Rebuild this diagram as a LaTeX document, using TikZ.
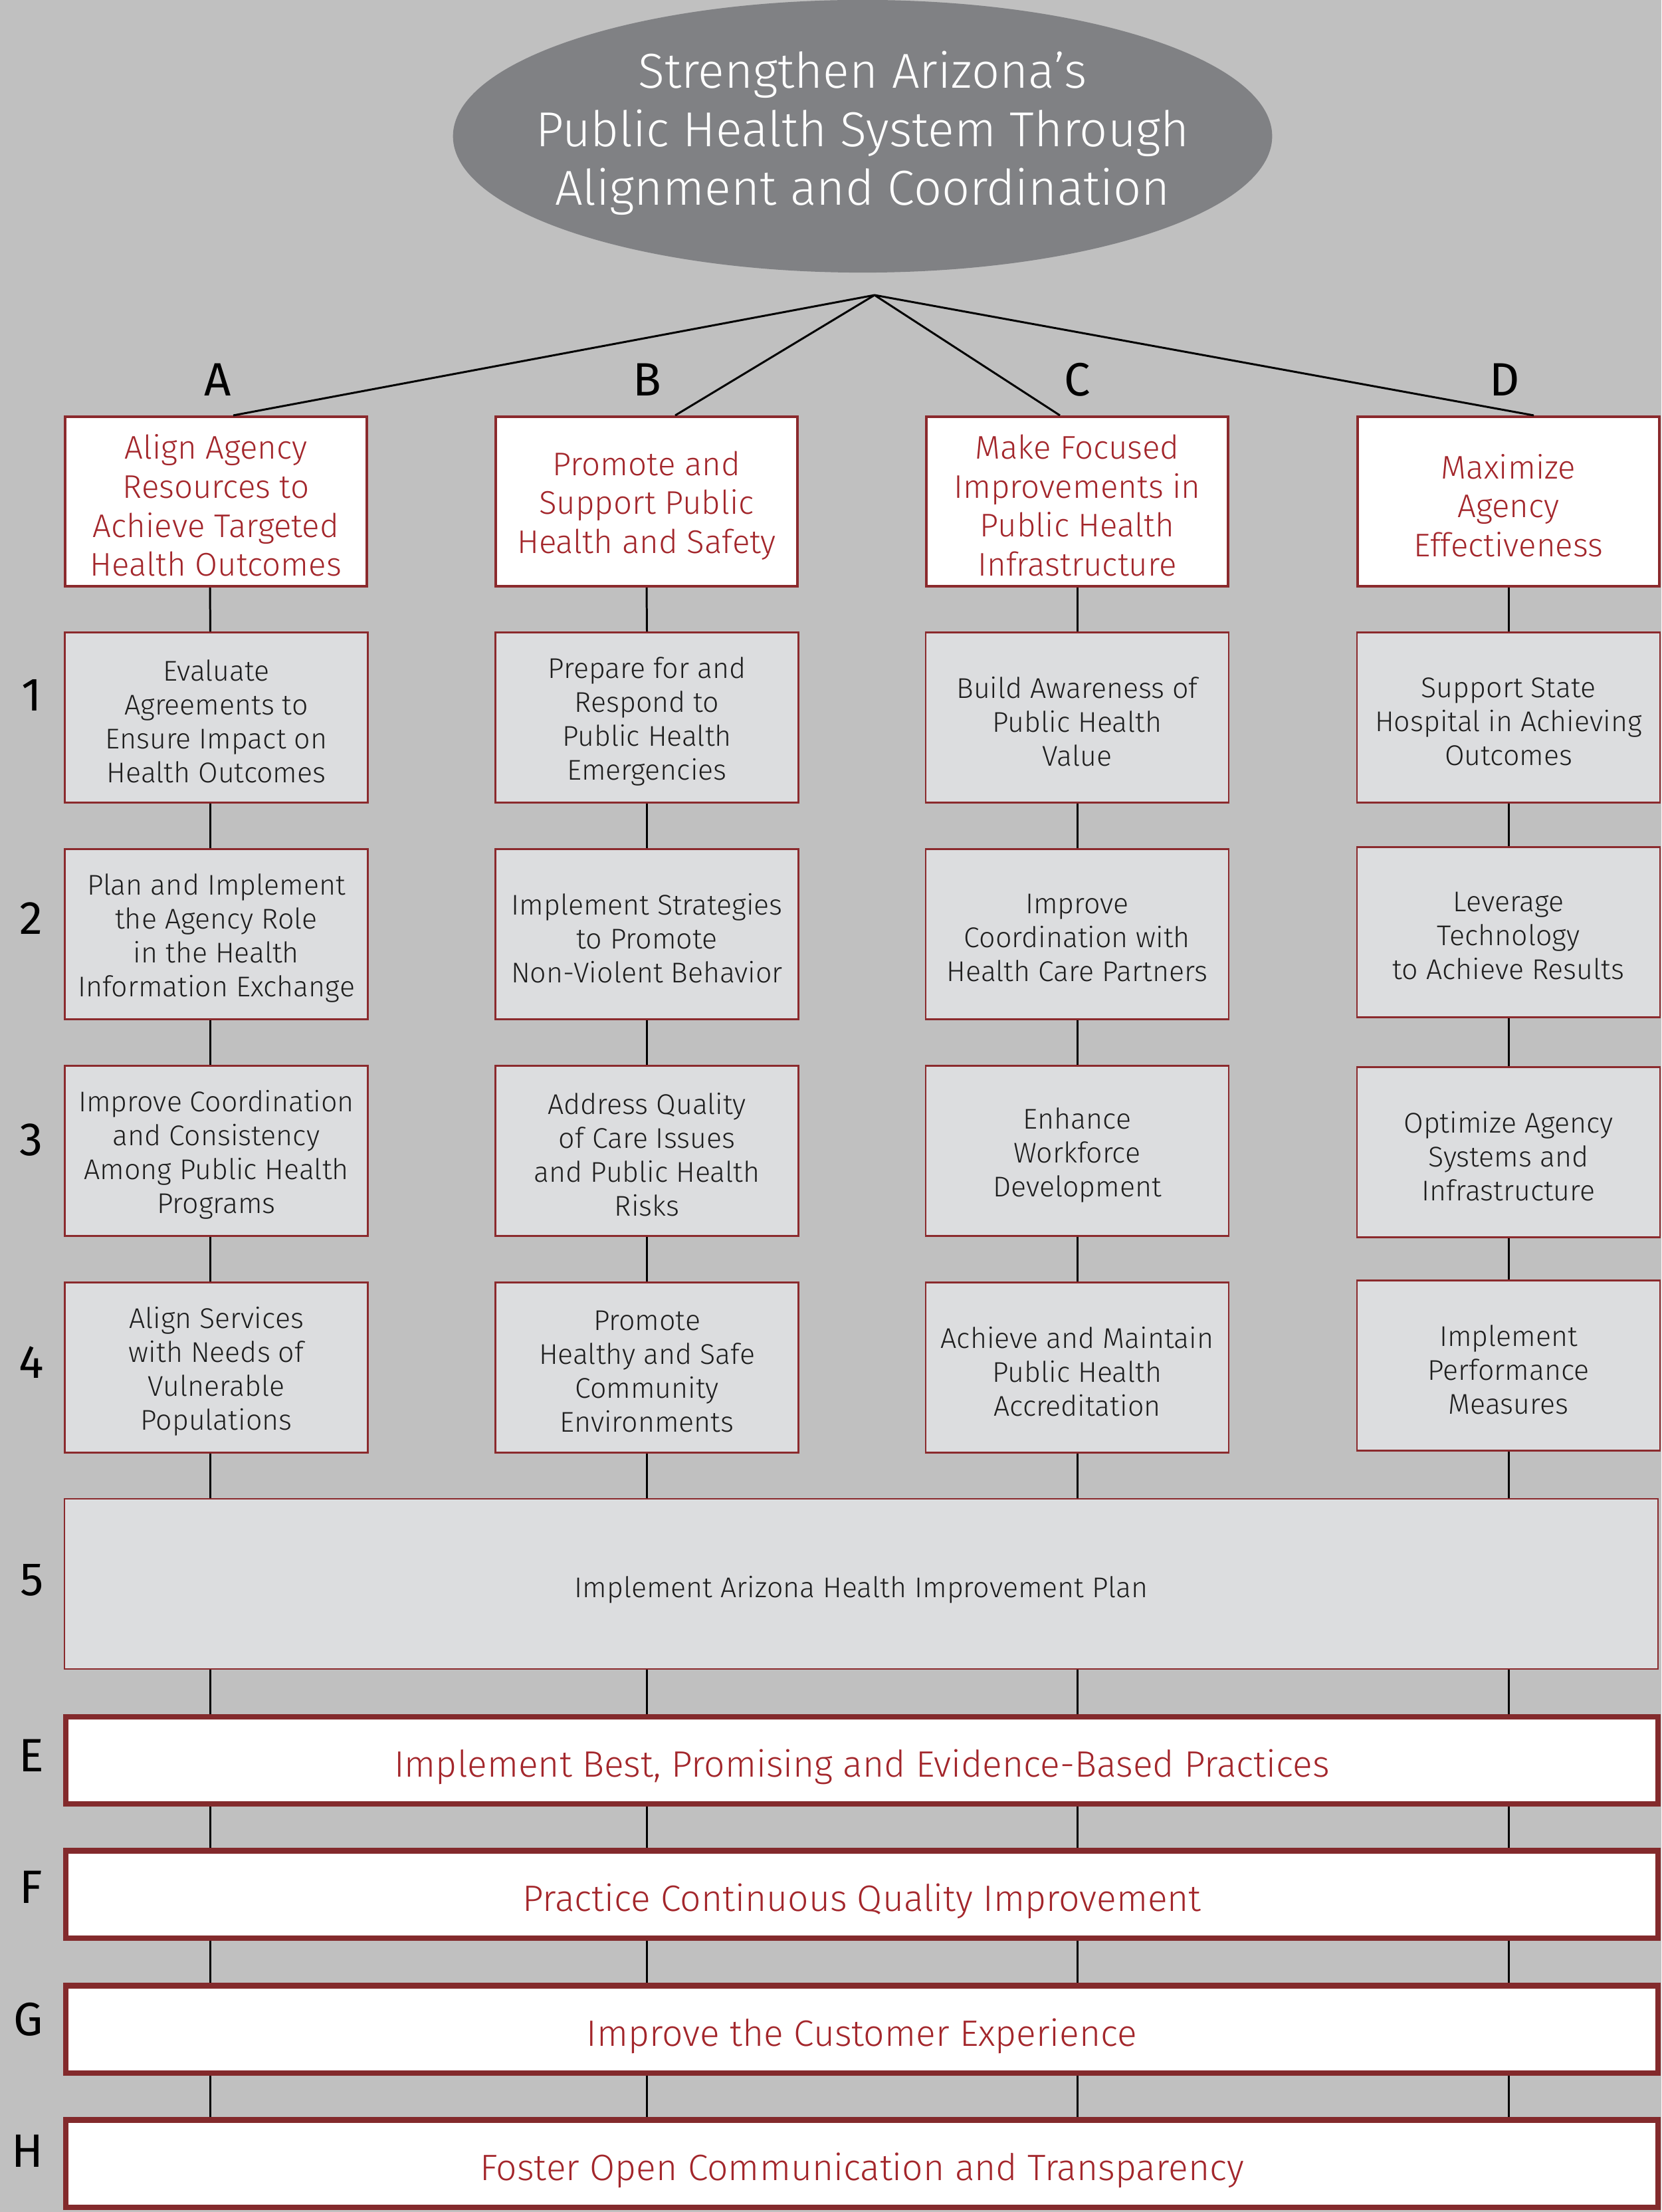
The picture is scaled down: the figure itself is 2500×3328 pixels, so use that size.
\documentclass[tikz,border=0pt]{standalone}
\usepackage{fontspec}
\setmainfont{Fira Sans Light}
\newfontfamily\firareg{Fira Sans}
\usetikzlibrary{shapes.geometric,calc}
\definecolor{bg}{HTML}{C0C0C0}
\definecolor{ellfill}{HTML}{808184}
\definecolor{boxfill}{HTML}{DCDDDF}
\definecolor{redline}{HTML}{8B2A2D}
\definecolor{redtext}{HTML}{A3262B}
\definecolor{darkred}{HTML}{832A2C}
\definecolor{txt}{HTML}{1E1E1E}
\newcommand{\lowered}[2]{\raisebox{-#1}[\height][\depth]{#2}}
\newcommand{\mltext}[1]{\lowered{0.06cm}{\parbox{4.45cm}{\centering #1}}}
\begin{document}
\begin{tikzpicture}[x=0.01cm,y=-0.01cm,
  topbox/.style={draw=redline, line width=1.1pt, fill=white, text=redtext,
    minimum width=4.54cm, minimum height=2.55cm, inner sep=0pt, align=center,
    font=\fontsize{14.0}{16.7}\selectfont},
  graybox/.style={draw=redline, line width=0.7pt, fill=boxfill, text=txt,
    minimum width=4.56cm, minimum height=2.56cm, inner sep=0pt, align=center,
    font=\fontsize{12.2}{14.5}\selectfont},
  widebox/.style={draw=redline, line width=0.7pt, fill=boxfill, text=txt,
    minimum width=23.97cm, minimum height=2.555cm, inner sep=0pt, align=center,
    font=\fontsize{12.2}{14.5}\selectfont},
  barbox/.style={draw=darkred, line width=2.3pt, fill=white, text=redtext,
    minimum width=23.94cm, minimum height=1.31cm, inner sep=0pt, align=center,
    font=\fontsize{15.7}{18}\selectfont},
  lbl/.style={text=black, inner sep=0pt, font=\firareg\fontsize{20}{24}\selectfont},
  conn/.style={draw=black, line width=0.85pt}
]
\useasboundingbox (0,0) rectangle (2500,3328);
\fill[bg] (0,0) rectangle (2500,3328);

% title ellipse
\node[ellipse, fill=ellfill, minimum width=12.32cm, minimum height=4.1cm, inner sep=0pt] (goal) at (1298,205) {};
\node[text=white, align=center, inner sep=0pt, font=\fontsize{21}{25}\selectfont] (title) at (1298,200)
  {Strengthen Arizona’s\\Public Health System Through\\Alignment and Coordination};
\coordinate (apex) at (1316,444);

% column letters
\node[lbl] (la) at (328,571) {A};
\node[lbl] (lb) at (974,571) {B};
\node[lbl] (lc) at (1621,571) {C};
\node[lbl] (ld) at (2264,571) {D};

% row labels
\node[lbl] (r1) at (48,1046) {1};
\node[lbl] (r2) at (47,1382) {2};
\node[lbl] (r3) at (47,1715) {3};
\node[lbl] (r4) at (47,2050) {4};
\node[lbl] (r5) at (48,2377) {5};
\node[lbl] (rE) at (47,2641) {E};
\node[lbl] (rF) at (47,2839) {F};
\node[lbl] (rG) at (43,3038) {G};
\node[lbl] (rH) at (41,3236) {H};

% top boxes
\node[topbox] (tA) at (325,754.5) {\mltext{Align Agency\\Resources to\\Achieve Targeted\\Health Outcomes}};
\node[topbox] (tB) at (973,754.5) {\mltext{Promote and\\Support Public\\Health and Safety}};
\node[topbox] (tC) at (1621,754.5) {\mltext{Make Focused\\Improvements in\\Public Health\\Infrastructure}};
\node[topbox] (tD) at (2270,754.5) {\mltext{Maximize\\Agency\\Effectiveness}};

% row 1
\node[graybox] (a1) at (325.5,1079.5) {\mltext{Evaluate\\Agreements to\\Ensure Impact on\\Health Outcomes}};
\node[graybox] (b1) at (973.5,1079.5) {\mltext{Prepare for and\\Respond to\\Public Health\\Emergencies}};
\node[graybox] (c1) at (1621,1079.5) {\mltext{Build Awareness of\\Public Health\\Value}};
\node[graybox] (d1) at (2270,1079.5) {\mltext{Support State\\Hospital in Achieving\\Outcomes}};
% row 2
\node[graybox] (a2) at (325.5,1405.5) {\mltext{Plan and Implement\\the Agency Role\\in the Health\\Information Exchange}};
\node[graybox] (b2) at (973.5,1405.5) {\mltext{Implement Strategies\\to Promote\\Non-Violent Behavior}};
\node[graybox] (c2) at (1621,1405.5) {\mltext{Improve\\Coordination with\\Health Care Partners}};
\node[graybox] (d2) at (2270,1402.5) {\mltext{Leverage\\Technology\\to Achieve Results}};
% row 3
\node[graybox] (a3) at (325.5,1731.5) {\mltext{Improve Coordination\\and Consistency\\Among Public Health\\Programs}};
\node[graybox] (b3) at (973.5,1731.5) {\mltext{Address Quality\\of Care Issues\\and Public Health\\Risks}};
\node[graybox] (c3) at (1621,1731.5) {\mltext{Enhance\\Workforce\\Development}};
\node[graybox] (d3) at (2270,1733.5) {\mltext{Optimize Agency\\Systems and\\Infrastructure}};
% row 4
\node[graybox] (a4) at (325.5,2057.5) {\mltext{Align Services\\with Needs of\\Vulnerable\\Populations}};
\node[graybox] (b4) at (973.5,2057.5) {\mltext{Promote\\Healthy and Safe\\Community\\Environments}};
\node[graybox] (c4) at (1621,2057.5) {\mltext{Achieve and Maintain\\Public Health\\Accreditation}};
\node[graybox] (d4) at (2270,2054.5) {\mltext{Implement\\Performance\\Measures}};

% row 5 and bars
\node[widebox] (p5) at (1296,2383) {\lowered{0.09cm}{Implement Arizona Health Improvement Plan}};
\node[barbox] (bE) at (1297,2648.5) {\lowered{0.10cm}{Implement Best, Promising and Evidence-Based Practices}};
\node[barbox] (bF) at (1297,2850) {\lowered{0.10cm}{Practice Continuous Quality Improvement}};
\node[barbox] (bG) at (1297,3053) {\lowered{0.10cm}{Improve the Customer Experience}};
\node[barbox] (bH) at (1297,3255) {\lowered{0.10cm}{Foster Open Communication and Transparency}};

% connectors from apex
\draw[conn] (apex) -- ([xshift=0.26cm]tA.north);
\draw[conn] (apex) -- ([xshift=0.43cm]tB.north);
\draw[conn] (apex) -- ([xshift=-0.26cm]tC.north);
\draw[conn] (apex) -- ([xshift=0.38cm]tD.north);

% column A connectors (slightly left of centre)
\foreach \u/\v in {tA/a1,a1/a2,a2/a3,a3/a4}
  \draw[conn] ([xshift=-0.09cm]\u.south) -- ([xshift=-0.09cm]\v.north);
\foreach \u/\v in {tB/b1,b1/b2,b2/b3,b3/b4,tC/c1,c1/c2,c2/c3,c3/c4,tD/d1,d1/d2,d2/d3,d3/d4}
  \draw[conn] (\u.south) -- (\v.north);
% down to the wide box
\draw[conn] ([xshift=-0.09cm]a4.south) -- ([xshift=-0.09cm]a4.south |- p5.north);
\draw[conn] (b4.south) -- (b4.south |- p5.north);
\draw[conn] (c4.south) -- (c4.south |- p5.north);
\draw[conn] (d4.south) -- (d4.south |- p5.north);
% between wide box and bars
\foreach \u/\v in {p5/bE,bE/bF,bF/bG,bG/bH}{
  \draw[conn] ([xshift=-0.09cm]a4.south |- \u.south) -- ([xshift=-0.09cm]a4.south |- \v.north);
  \draw[conn] (b4.south |- \u.south) -- (b4.south |- \v.north);
  \draw[conn] (c4.south |- \u.south) -- (c4.south |- \v.north);
  \draw[conn] (d4.south |- \u.south) -- (d4.south |- \v.north);
}
\end{tikzpicture}
\end{document}
